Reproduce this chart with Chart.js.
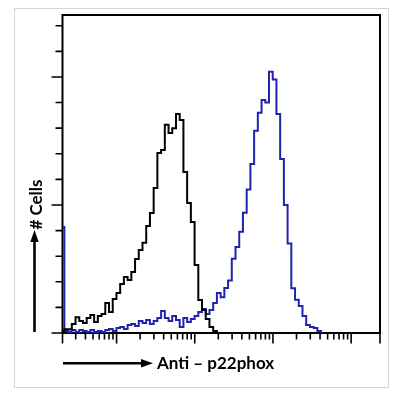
<!DOCTYPE html>
<html lang="en">
<head>
<meta charset="UTF-8">
<title>Anti – p22phox</title>
<script src="https://cdn.jsdelivr.net/npm/chart.js@4.4.0/dist/chart.umd.min.js"></script>
<style>
  body { margin: 0; background: #fff; }
  #wrap { position: relative; width: 403px; height: 395px; }
  #frame { position: absolute; left: 14px; top: 8px; width: 373px; height: 378px; border: 1px solid #d4d4d4; }
  canvas, svg { position: absolute; left: 0; top: 0; }
  .lbl { position: absolute; font-family: Lato, "Liberation Sans", sans-serif; font-weight: 700; font-size: 17px; color: #000; white-space: nowrap; }
  #xlabel { left: 157px; top: 352px; }
  #ylabel { left: -5.5px; top: 193.8px; width: 80px; text-align: center; transform: rotate(-90deg); }
</style>
</head>
<body>
<div id="wrap">
  <div id="frame"></div>
  <canvas id="myChart" width="403" height="395"></canvas>
  <svg width="403" height="395">
    <line x1="34.5" y1="332" x2="34.5" y2="240" stroke="#000" stroke-width="2.6"/>
    <polygon points="34.5,230 30.3,242 38.7,242" fill="#000"/>
    <line x1="63" y1="363.3" x2="143" y2="363.3" stroke="#000" stroke-width="2.6"/>
    <polygon points="153,363.3 141,359.1 141,367.5" fill="#000"/>
  </svg>
  <div class="lbl" id="xlabel">Anti – p22phox</div>
  <div class="lbl" id="ylabel"># Cells</div>
</div>

<script>
  // histogram channels (256 channels over the log axis)
  const channels = [0, 3, 6, 9, 12, 15, 18, 21, 24, 27, 30, 33, 36, 39, 42, 45, 48, 51, 54, 57,
    60, 63, 66, 69, 72, 75, 78, 81, 84, 87, 90, 93, 96, 99, 102, 105, 108, 111, 114, 117,
    120, 123, 126, 129, 132, 135, 138, 141, 144, 147, 150, 153, 156, 159, 162, 165, 168, 171, 174, 177,
    180, 183, 186, 189, 192, 195, 198, 201, 204, 207, 210];

  // isotype control (black)
  const controlCounts = [0.04, 0.15, 0.15, 0.35, 0.62, 0.47, 0.39, 0.59, 0.70, 0.43,
    0.66, 0.74, 1.17, 0.82, 1.33, 1.56, 1.91, 2.19, 2.07, 2.38,
    2.89, 3.24, 3.52, 4.18, 4.69, 5.66, 7.03, 7.15, 8.13, 7.81,
    8.0, 8.55, 8.32, 6.29, 5.08, 4.34, 2.66, 1.29, 0.90, 0.55,
    0.23, 0.08, 0];

  // anti-p22phox (blue)
  const stainedCounts = [4.14, 0.08, 0.04, 0.12, 0.04, 0.12, 0.08, 0.04, 0.12, 0.04,
    0.08, 0.04, 0.12, 0.16, 0.08, 0.2, 0.23, 0.16, 0.31, 0.35,
    0.27, 0.47, 0.39, 0.51, 0.35, 0.47, 0.59, 0.86, 0.59, 0.47,
    0.66, 0.51, 0.23, 0.59, 0.43, 0.55, 0.66, 0.82, 0.94, 0.74,
    0.90, 1.17, 1.56, 1.4, 1.76, 2.05, 2.9, 3.36, 3.95, 4.7,
    5.6, 6.6, 7.9, 8.6, 9.1, 9.0, 10.2, 9.9, 8.55, 6.8,
    5.0, 3.5, 1.75, 1.3, 1.05, 0.66, 0.31, 0.23, 0.2, 0.08, 0];

  // axis ticks
  const xMajor = [10, 100, 1000, 10000];
  const xMinor = [3, 4, 5, 6, 7, 8, 9, 20, 30, 40, 50, 60, 70, 80, 90,
    200, 300, 400, 500, 600, 700, 800, 900, 2000, 3000, 4000, 5000, 6000, 7000, 8000, 9000];
  const yTicks = [0, 1, 2, 3, 4, 5, 6, 7, 8, 9, 10, 11, 12];
  const yMajor = [0, 5, 10];

  // intensity -> channel (about 63 channels per decade, 10 at channel 43.6)
  function channelOf(v) {
    return 43.6 + 63.05 * (Math.log10(v) - 1);
  }

  function toPoints(counts) {
    return counts.map((c, i) => ({ x: channels[i], y: c }));
  }

  const frameTicks = {
    id: 'frameTicks',
    beforeDatasetsDraw(chart) {
      const { ctx, chartArea: a, scales: { x, y } } = chart;
      ctx.save();
      ctx.strokeStyle = '#000';
      ctx.lineWidth = 2;
      ctx.strokeRect(a.left, a.top, a.right - a.left, a.bottom - a.top);
      ctx.lineWidth = 1.6;
      ctx.beginPath();
      yTicks.forEach(t => {
        const py = y.getPixelForValue(t);
        const len = yMajor.includes(t) ? 11 : 7;
        ctx.moveTo(a.left - len, py);
        ctx.lineTo(a.left, py);
      });
      xMinor.forEach(v => {
        const px = x.getPixelForValue(channelOf(v));
        ctx.moveTo(px, a.bottom);
        ctx.lineTo(px, a.bottom + 6.5);
      });
      xMajor.forEach(v => {
        const px = x.getPixelForValue(channelOf(v));
        ctx.moveTo(px, a.bottom);
        ctx.lineTo(px, a.bottom + 10.5);
      });
      [a.left, a.right].forEach(px => {
        ctx.moveTo(px, a.bottom);
        ctx.lineTo(px, a.bottom + 10.5);
      });
      ctx.stroke();
      ctx.restore();
    }
  };

  const ctx = document.getElementById('myChart').getContext('2d');
  const myChart = new Chart(ctx, {
    type: 'line',
    data: {
      datasets: [
        {
          label: 'Control',
          data: toPoints(controlCounts),
          borderColor: '#000',
          borderWidth: 2,
          pointRadius: 0,
          stepped: 'middle',
          fill: false
        },
        {
          label: 'Anti – p22phox',
          data: toPoints(stainedCounts),
          borderColor: '#2222b0',
          borderWidth: 2,
          pointRadius: 0,
          stepped: 'middle',
          fill: false
        }
      ]
    },
    options: {
      responsive: false,
      animation: false,
      layout: { padding: { left: 62.5, top: 15, right: 23, bottom: 62 } },
      plugins: { legend: { display: false }, tooltip: { enabled: false } },
      scales: {
        x: { type: 'linear', min: 0, max: 256, display: false },
        y: { type: 'linear', min: 0, max: 12.42, display: false }
      }
    },
    plugins: [frameTicks]
  });
</script>
</body>
</html>
